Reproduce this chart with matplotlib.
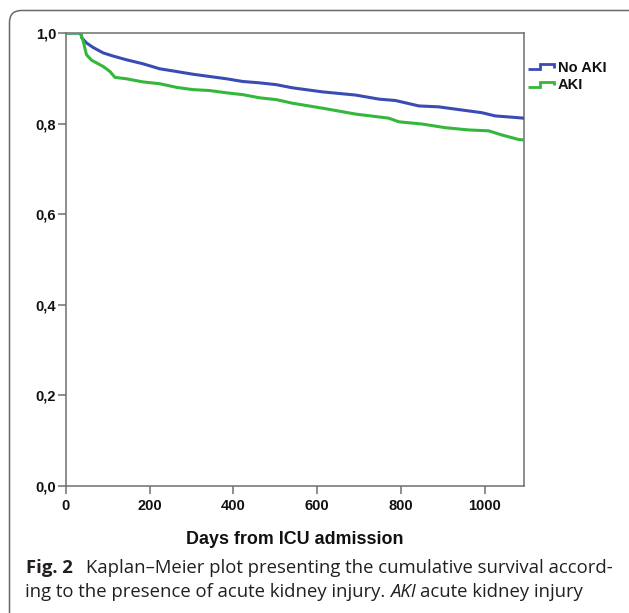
import matplotlib
matplotlib.use("Agg")
import matplotlib.pyplot as plt
from matplotlib.lines import Line2D
from matplotlib.legend_handler import HandlerBase
from matplotlib.patches import FancyBboxPatch
from matplotlib.ticker import FuncFormatter
from matplotlib.transforms import IdentityTransform

plt.rcParams["font.family"] = ["Liberation Sans", "DejaVu Sans"]
plt.rcParams["font.weight"] = "bold"

# ---- data ----
days_no_aki = [0, 35, 38, 49, 65, 89, 113, 144, 184, 224, 264, 303, 343, 383, 422, 462,
               502, 541, 613, 692, 748, 787, 843, 890, 946, 994, 1025, 1081, 1093]
surv_no_aki = [1.0, 1.0, 0.989, 0.978, 0.968, 0.956, 0.949, 0.941, 0.932, 0.921, 0.915,
               0.909, 0.904, 0.899, 0.893, 0.890, 0.886, 0.879, 0.870, 0.863, 0.854,
               0.851, 0.839, 0.837, 0.830, 0.824, 0.817, 0.813, 0.812]

days_aki = [0, 35, 38, 41, 49, 61, 89, 105, 117, 144, 184, 224, 264, 303, 343, 383, 422,
            462, 502, 541, 613, 692, 771, 795, 851, 906, 962, 1010, 1041, 1081, 1093]
surv_aki = [1.0, 1.0, 0.99, 0.982, 0.952, 0.940, 0.926, 0.915, 0.902, 0.899, 0.892,
            0.888, 0.880, 0.875, 0.873, 0.868, 0.864, 0.857, 0.853, 0.845, 0.834, 0.821,
            0.812, 0.804, 0.799, 0.791, 0.786, 0.784, 0.775, 0.765, 0.764]

series_labels = ["No AKI", "AKI"]
series_colors = ["#3a4cb4", "#34b83c"]
x_ticks = [0, 200, 400, 600, 800, 1000]
y_ticks = [0.0, 0.2, 0.4, 0.6, 0.8, 1.0]
x_label = "Days from ICU admission"
caption_bold = "Fig. 2"
caption_line1 = "Kaplan\u2013Meier plot presenting the cumulative survival accord-"
caption_line2a = "ing to the presence of acute kidney injury."
caption_line2b = "AKI"
caption_line2c = "acute kidney injury"

W, H = 629, 613
fig = plt.figure(figsize=(W / 100, H / 100), dpi=100)
px = IdentityTransform()

# outer rounded frame (cut by figure edges at right and bottom)
frame = FancyBboxPatch((9.5, -14), 632, 613 - 10.5 + 14,
                       boxstyle="round,pad=0,rounding_size=12",
                       transform=px, facecolor="none", edgecolor="#6a6a6a",
                       linewidth=1.1)
fig.patches.append(frame)

ax_l, ax_r, ax_t, ax_b = 66.0, 523.5, 33, 486
ax = fig.add_axes([ax_l / W, 1 - ax_b / H, (ax_r - ax_l) / W, (ax_b - ax_t) / H])

l1, = ax.plot(days_no_aki, surv_no_aki, color=series_colors[0],
              lw=2.2, label=series_labels[0], zorder=3)
l2, = ax.plot(days_aki, surv_aki, color=series_colors[1],
              lw=2.2, label=series_labels[1], zorder=3)

ax.set_xlim(0, 1093)
ax.set_ylim(0, 1.0)
ax.set_xticks(x_ticks)
ax.set_yticks(y_ticks)
ax.yaxis.set_major_formatter(FuncFormatter(lambda v, p: f"{v:.1f}".replace(".", ",")))

spine_c = "#6f6f6f"
for s in ax.spines.values():
    s.set_color(spine_c)
    s.set_linewidth(1.1)
    s.set_zorder(2)
ax.tick_params(axis="both", direction="out", length=6.0, width=1.1, color=spine_c,
               labelsize=10.5, labelcolor="#111111")
ax.tick_params(axis="x", pad=3.0)
ax.tick_params(axis="y", pad=1.0)

ax.set_xlabel(x_label, fontweight="bold", fontsize=12.9, color="#111111")
ax.xaxis.set_label_coords(0.5, -(544 - ax_b) / (ax_b - ax_t))
ax.xaxis.label.set_va("baseline")


class StepHandler(HandlerBase):
    def create_artists(self, legend, orig_handle, xdescent, ydescent, width, height,
                       fontsize, trans):
        c = height / 2 - ydescent
        d = 1.8
        xm = width * 0.47
        xs = [-xdescent, xm - xdescent, xm - xdescent, width - xdescent, width - xdescent]
        ys = [c - d, c - d, c + d, c + d, c - d * 0.3]
        ln = Line2D(xs, ys, color=orig_handle.get_color(),
                    lw=2.0, transform=trans,
                    solid_joinstyle="miter", solid_capstyle="butt")
        return [ln]


leg = fig.legend(handles=[l1, l2], labels=series_labels, loc="upper left",
                 bbox_to_anchor=(528, H - 61), bbox_transform=px,
                 frameon=False, borderpad=0, borderaxespad=0,
                 handlelength=1.75, handleheight=0.7, handletextpad=0.3,
                 labelspacing=0.22,
                 prop=dict(family="Liberation Sans", weight="bold", size=10.5),
                 handler_map={Line2D: StepHandler()})
for t in leg.get_texts():
    t.set_color("#111111")

# ---- caption ----
renderer = fig.canvas.get_renderer()
cap_family = "Open Sans"
cap_color = "#231f20"


def measure(txt, size, **kw):
    kw.setdefault("weight", "normal")
    t = fig.text(0, 0, txt, fontsize=size, family=cap_family, transform=px, **kw)
    w = t.get_window_extent(renderer).width
    t.remove()
    return w


gap1 = 13.0
target = 610 - 26
size = 13.0
for _ in range(3):
    tot = measure(caption_bold, size, weight="bold") + gap1 + measure(caption_line1, size)
    size = size * target / tot

space_w = measure("a a", size) - measure("aa", size)

x0 = 26
y1 = H - 573
t = fig.text(x0, y1, caption_bold, fontsize=size, family=cap_family, weight="bold",
             transform=px, va="baseline", color=cap_color)
xb = t.get_window_extent(renderer).x1 + gap1
fig.text(xb, y1, caption_line1, fontsize=size, family=cap_family, weight="normal",
         transform=px, va="baseline", color=cap_color)

y2 = H - 597
x = 25
t = fig.text(x, y2, caption_line2a, fontsize=size, family=cap_family, weight="normal",
             transform=px, va="baseline", color=cap_color)
x = t.get_window_extent(renderer).x1 + space_w
t = fig.text(x, y2, caption_line2b, fontsize=size, family=cap_family, style="italic",
             weight="normal", transform=px, va="baseline", color=cap_color)
x = t.get_window_extent(renderer).x1 + space_w
fig.text(x, y2, caption_line2c, fontsize=size, family=cap_family, weight="normal",
         transform=px, va="baseline", color=cap_color)

fig.savefig("out.png", dpi=100)
